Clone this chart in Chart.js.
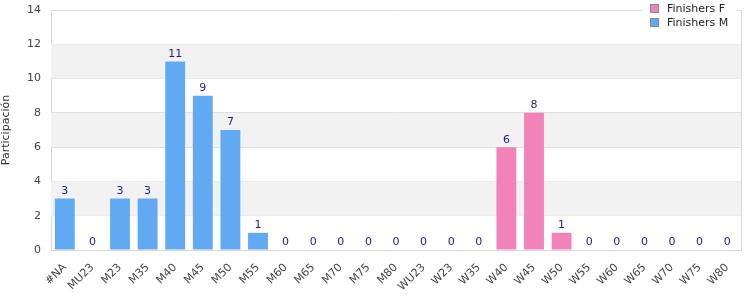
<!DOCTYPE html>
<html>
<head>
<meta charset="utf-8">
<script src="https://cdn.jsdelivr.net/npm/chart.js@4/dist/chart.umd.min.js"></script>
<style>
    html, body { margin: 0; padding: 0; background: #fff; }
    #wrap { width: 750px; height: 300px; }
</style>
</head>
<body>
<div id="wrap"><canvas id="chart" width="750" height="300"></canvas></div>
<script>
const categories = ['#NA', 'MU23', 'M23', 'M35', 'M40', 'M45', 'M50', 'M55', 'M60', 'M65', 'M70', 'M75', 'M80',
    'WU23', 'W23', 'W35', 'W40', 'W45', 'W50', 'W55', 'W60', 'W65', 'W70', 'W75', 'W80'];
const finishersF = [0, 0, 0, 0, 0, 0, 0, 0, 0, 0, 0, 0, 0, 0, 0, 0, 6, 8, 1, 0, 0, 0, 0, 0, 0];
const finishersM = [3, 0, 3, 3, 11, 9, 7, 1, 0, 0, 0, 0, 0, 0, 0, 0, 0, 0, 0, 0, 0, 0, 0, 0, 0];
const yTicks = [0, 2, 4, 6, 8, 10, 12, 14];

const pink = '#f283ba';
const blue = '#62a9f4';
const fontFamily = '"DejaVu Sans", Verdana, sans-serif';

// grey bands between every other pair of gridlines, plus the right border
const bandsPlugin = {
    id: 'bands',
    beforeDatasetsDraw(chart) {
        const { ctx, chartArea, scales } = chart;
        ctx.save();
        ctx.fillStyle = '#f2f2f2';
        for (let i = 1; i < yTicks.length - 1; i += 2) {
            const top = scales.y.getPixelForValue(yTicks[i + 1]);
            const bottom = scales.y.getPixelForValue(yTicks[i]);
            ctx.fillRect(chartArea.left, top, chartArea.right - chartArea.left, bottom - top);
        }
        ctx.strokeStyle = '#d8d8d8';
        ctx.lineWidth = 1;
        ctx.beginPath();
        ctx.moveTo(Math.round(chartArea.right) + 0.5, chartArea.top);
        ctx.lineTo(Math.round(chartArea.right) + 0.5, chartArea.bottom);
        ctx.stroke();
        ctx.restore();
    }
};

// totals written above each stack
const totalsPlugin = {
    id: 'totals',
    afterDatasetsDraw(chart) {
        const { ctx, scales } = chart;
        ctx.save();
        ctx.font = '11px ' + fontFamily;
        ctx.fillStyle = '#1c1c8c';
        ctx.textAlign = 'center';
        ctx.textBaseline = 'bottom';
        categories.forEach((c, i) => {
            const total = finishersF[i] + finishersM[i];
            const x = scales.x.getPixelForValue(i);
            const y = scales.y.getPixelForValue(total);
            ctx.fillText(String(total), x, y - 2);
        });
        ctx.restore();
    }
};

// legend drawn over the top right corner of the plot
const cornerLegend = {
    id: 'cornerLegend',
    afterDraw(chart) {
        const { ctx } = chart;
        ctx.save();
        ctx.fillStyle = '#fff';
        ctx.fillRect(643, 0, 94, 31);
        const items = [['Finishers F', pink], ['Finishers M', blue]];
        items.forEach((it, i) => {
            const y = 9 + i * 14;
            ctx.fillStyle = it[1];
            ctx.fillRect(650.5, y - 4.5, 8, 8);
            ctx.strokeStyle = '#888';
            ctx.lineWidth = 1;
            ctx.strokeRect(650.5, y - 4.5, 8, 8);
            ctx.fillStyle = '#222';
            ctx.font = '11px ' + fontFamily;
            ctx.textBaseline = 'middle';
            ctx.fillText(it[0], 667, y);
        });
        ctx.restore();
    }
};

new Chart(document.getElementById('chart'), {
    type: 'bar',
    data: {
        labels: categories,
        datasets: [
            { label: 'Finishers F', data: finishersF, backgroundColor: pink, borderWidth: 0 },
            { label: 'Finishers M', data: finishersM, backgroundColor: blue, borderWidth: 0 }
        ]
    },
    options: {
        responsive: false,
        animation: false,
        layout: { padding: { top: 10, right: 9, left: 0, bottom: 0 } },
        datasets: { bar: { categoryPercentage: 1, barPercentage: 0.72 } },
        plugins: { legend: { display: false }, tooltip: { enabled: false } },
        scales: {
            x: {
                stacked: true,
                grid: { display: false },
                border: { color: '#d8d8d8' },
                afterFit(scale) {
                    scale.height = 50;
                    scale.paddingLeft = 0;
                    scale.paddingRight = 0;
                },
                ticks: {
                    color: '#444',
                    font: { family: fontFamily, size: 11 },
                    minRotation: 45,
                    maxRotation: 45,
                    autoSkip: false
                }
            },
            y: {
                stacked: true,
                min: 0,
                max: 14,
                grid: { color: '#dedede', drawTicks: false },
                border: { color: '#d8d8d8' },
                afterFit(scale) {
                    scale.width = 51;
                    scale.paddingTop = 0;
                    scale.paddingBottom = 0;
                },
                ticks: {
                    stepSize: 2,
                    padding: 10,
                    color: '#444',
                    font: { family: fontFamily, size: 11 }
                },
                title: {
                    display: true,
                    text: 'Participación',
                    color: '#333',
                    padding: { top: 0, bottom: 6 },
                    font: { family: fontFamily, size: 11 }
                }
            }
        }
    },
    plugins: [bandsPlugin, totalsPlugin, cornerLegend]
});
</script>
</body>
</html>
